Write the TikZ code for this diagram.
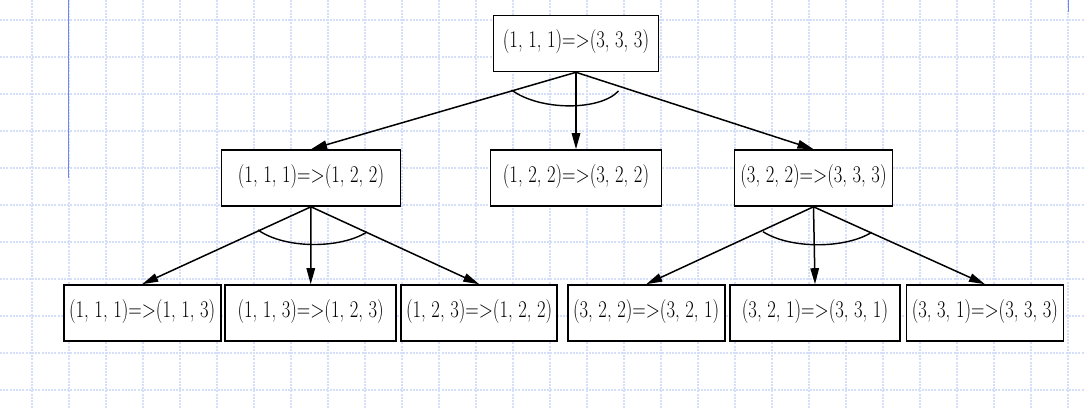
\documentclass[tikz,border=0pt]{standalone}
\usepackage{graphicx}
\usetikzlibrary{arrows.meta}
\definecolor{gridblue}{RGB}{214,223,250}
\definecolor{edgeblue}{RGB}{110,135,240}
\newcommand{\boxtext}[1]{\scalebox{0.775}[1]{\fontsize{24}{27}\selectfont #1}}
\begin{document}
\begin{tikzpicture}[x=1pt,y=-1pt,
  box/.style={draw=black,fill=white,line width=1.6pt,inner sep=0pt,
    minimum height=56pt,text height=18pt,text depth=9.2pt},
  arr/.style={line width=1.5pt,-{Triangle[length=16pt,width=8.5pt]}},
  andarc/.style={line width=1.4pt}]
\useasboundingbox (0,0) rectangle (1085,409);
\fill[white] (0,0) rectangle (1085,409);
% grid
\foreach \k in {0,...,28}{
  \draw[gridblue,line width=1.2pt,dash pattern=on 2pt off 1.2pt] (32+37*\k,0) -- (32+37*\k,409);}
\foreach \k in {0,...,10}{
  \draw[gridblue,line width=1.2pt,dash pattern=on 2pt off 1.2pt] (0,20+37*\k) -- (1085,20+37*\k);}
\draw[edgeblue,line width=1.3pt] (68.5,0) -- (68.5,178);
\draw[edgeblue,line width=1.3pt] (1068.5,0) -- (1068.5,12);
% nodes
\node[box,minimum width=165pt] (top) at (576,43.5) {\boxtext{(1, 1, 1)=>(3, 3, 3)}};
\node[box,minimum width=179pt] (ml) at (311,178) {\boxtext{(1, 1, 1)=>(1, 2, 2)}};
\node[box,minimum width=171pt] (mc) at (576,178) {\boxtext{(1, 2, 2)=>(3, 2, 2)}};
\node[box,minimum width=158pt] (mr) at (813.5,178) {\boxtext{(3, 2, 2)=>(3, 3, 3)}};
\node[box,minimum width=157pt] (b1) at (142.2,313) {\boxtext{(1, 1, 1)=>(1, 1, 3)}};
\node[box,minimum width=171pt] (b2) at (310.7,313) {\boxtext{(1, 1, 3)=>(1, 2, 3)}};
\node[box,minimum width=156pt] (b3) at (479.2,313) {\boxtext{(1, 2, 3)=>(1, 2, 2)}};
\node[box,minimum width=157pt] (b4) at (646.2,313) {\boxtext{(3, 2, 2)=>(3, 2, 1)}};
\node[box,minimum width=170pt] (b5) at (815,313) {\boxtext{(3, 2, 1)=>(3, 3, 1)}};
\node[box,minimum width=157pt] (b6) at (984.9,313) {\boxtext{(3, 3, 1)=>(3, 3, 3)}};
% connectors
\draw[arr] (top.south) -- (ml.north);
\draw[arr] (top.south) -- (mc.north);
\draw[arr] (top.south) -- (mr.north);
\draw[arr] (ml.south) -- (b1.north);
\draw[arr] (ml.south) -- (b2.north);
\draw[arr] (ml.south) -- (b3.north);
\draw[arr] (mr.south) -- (b4.north);
\draw[arr] (mr.south) -- (b5.north);
\draw[arr] (mr.south) -- (b6.north);
% and-arcs
\draw[andarc] (511.5,90) .. controls (540,111) and (600,111) .. (618.5,91);
\draw[andarc] (258,230) .. controls (285,249) and (340,249) .. (367,232);
\draw[andarc] (763,231.7) .. controls (790,249) and (845,249) .. (871.7,232.3);
\end{tikzpicture}
\end{document}
